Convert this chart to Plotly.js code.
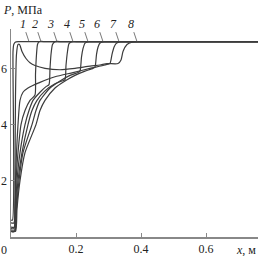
<!DOCTYPE html>
<html>
<head>
<meta charset="utf-8">
<script src="https://cdn.plot.ly/plotly-3.0.1.min.js"></script>
<style>html,body{margin:0;padding:0;background:#fff;}#chart{width:258px;height:256px;}</style>
</head>
<body>
<div id="chart"></div>
<script>
// Pressure profiles P (MPa) along x (m), curves 1..8
const x1 = [0, 0.0046, 0.0062, 0.0085, 0.013, 0.022, 0.06, 0.76];
const p1 = [0.6, 0.6, 6.6, 6.85, 6.93, 6.95, 6.95, 6.95];

const x2 = [0, 0.0092, 0.0123, 0.0154, 0.0215, 0.0308, 0.0431, 0.0585, 0.0738, 0.0754, 0.0785, 0.0815, 0.0862, 0.11, 0.76];
const p2 = [0.5, 0.5, 1.2, 2.0, 3.0, 4.0, 4.5, 4.86, 5.05, 5.8, 6.5, 6.85, 6.95, 6.95, 6.95];

const x3 = [0, 0.0108, 0.0138, 0.0185, 0.0277, 0.0431, 0.0554, 0.0677, 0.0892, 0.1077, 0.1169, 0.12, 0.1231, 0.1277, 0.1354, 0.16, 0.76];
const p3 = [0.35, 0.35, 1.0, 2.0, 3.0, 4.0, 4.5, 4.86, 5.15, 5.35, 5.42, 6.0, 6.5, 6.85, 6.95, 6.95, 6.95];

const x4 = [0, 0.0123, 0.0154, 0.0215, 0.0338, 0.0523, 0.0646, 0.08, 0.1046, 0.1354, 0.1569, 0.1662, 0.1692, 0.1738, 0.1785, 0.1877, 0.21, 0.76];
const p4 = [0.25, 0.25, 1.0, 2.0, 3.0, 4.0, 4.5, 4.86, 5.2, 5.45, 5.55, 5.6, 6.1, 6.6, 6.88, 6.95, 6.95, 6.95];

const x5 = [0, 0.0123, 0.0169, 0.0246, 0.0369, 0.0646, 0.0769, 0.0892, 0.12, 0.1508, 0.1815, 0.2062, 0.2123, 0.2169, 0.2215, 0.2277, 0.24, 0.27, 0.76];
const p5 = [0.2, 0.2, 1.0, 2.0, 3.0, 4.0, 4.5, 4.86, 5.3, 5.55, 5.75, 5.85, 5.9, 6.4, 6.7, 6.9, 6.95, 6.95, 6.95];

const x6 = [0, 0.0138, 0.0185, 0.0277, 0.0431, 0.0769, 0.0892, 0.1046, 0.1354, 0.1662, 0.1969, 0.2277, 0.2523, 0.2585, 0.2631, 0.2677, 0.2738, 0.2862, 0.31, 0.76];
const p6 = [0.2, 0.2, 1.0, 2.0, 3.0, 4.0, 4.5, 4.86, 5.3, 5.55, 5.75, 5.9, 6.0, 6.05, 6.5, 6.75, 6.9, 6.95, 6.95, 6.95];

const x7 = [0, 0.0092, 0.0123, 0.0138, 0.0169, 0.0215, 0.0277, 0.0369, 0.0523, 0.0892, 0.1354, 0.1908, 0.2431, 0.2892, 0.3046, 0.3108, 0.3169, 0.3231, 0.3354, 0.36, 0.76];
const p7 = [0.3, 0.3, 1.0, 2.0, 3.0, 4.0, 4.86, 5.15, 5.3, 5.5, 5.7, 5.85, 6.0, 6.12, 6.18, 6.5, 6.75, 6.88, 6.95, 6.95, 6.95];

const x8 = [0, 0.0108, 0.0123, 0.0138, 0.0169, 0.0215, 0.0262, 0.0338, 0.0462, 0.0585, 0.0738, 0.1046, 0.1508, 0.1969, 0.2431, 0.2738, 0.2954, 0.3292, 0.3385, 0.3446, 0.3569, 0.3723, 0.3908, 0.42, 0.76];
const p8 = [0.2, 0.2, 2.0, 5.0, 6.5, 6.85, 6.85, 6.6, 6.35, 6.2, 6.1, 6.0, 5.95, 6.0, 6.08, 6.12, 6.17, 6.17, 6.3, 6.6, 6.85, 6.93, 6.95, 6.95, 6.95];

const curveLabels = ['1', '2', '3', '4', '5', '6', '7', '8'];
const xTickVals = [0.2, 0.4, 0.6];
const xTickText = ['0.2', '0.4', '0.6'];
const yTickVals = [2, 4, 6];
const yTickText = ['2', '4', '6'];

// leader-line tips on the plateau (label placement)
const labelTipX = [0.0554, 0.0923, 0.1415, 0.1908, 0.2369, 0.2831, 0.3323, 0.3877];
const plateau = 6.95;

const xs = [x1, x2, x3, x4, x5, x6, x7, x8];
const ps = [p1, p2, p3, p4, p5, p6, p7, p8];

const FONT = 'Liberation Serif, Times New Roman, serif';
const traces = xs.map((x, i) => ({
  x: x, y: ps[i], type: 'scatter', mode: 'lines',
  line: {color: '#3c3c3c', width: 1.2, shape: 'spline', smoothing: 0.6},
  hoverinfo: 'skip', showlegend: false
}));

const annotations = curveLabels.map((t, i) => ({
  x: labelTipX[i], y: plateau, xref: 'x', yref: 'y',
  text: '<i>' + t + '</i>', showarrow: true, arrowhead: 0, arrowwidth: 0.8,
  arrowcolor: '#555', ax: -6, ay: -18, standoff: 0,
  font: {family: FONT, size: 12, color: '#222'}
}));
annotations.push({
  xref: 'paper', yref: 'paper', x: 0, y: 1, xanchor: 'left', yanchor: 'middle',
  xshift: -10, yshift: 19, showarrow: false,
  text: '<i>P</i>, МПа', font: {family: FONT, size: 12, color: '#222'}
});
annotations.push({
  xref: 'paper', yref: 'paper', x: 1, y: 0, xanchor: 'right', yanchor: 'top',
  xshift: 0, yshift: -4, showarrow: false,
  text: '<i>x</i>, м', font: {family: FONT, size: 12, color: '#222'}
});
annotations.push({
  xref: 'x', yref: 'paper', x: 0, y: 0, xanchor: 'center', yanchor: 'top',
  xshift: -7, yshift: -4, showarrow: false,
  text: '0', font: {family: FONT, size: 12, color: '#222'}
});

const layout = {
  width: 258, height: 256,
  margin: {l: 11, r: 0, t: 29, b: 19, pad: 0},
  paper_bgcolor: '#fff', plot_bgcolor: '#fff',
  font: {family: FONT, size: 12, color: '#222'},
  xaxis: {
    range: [0, 0.76], showgrid: false, zeroline: false,
    showline: true, linecolor: '#888', linewidth: 1.5,
    ticks: 'inside', ticklen: 4, tickcolor: '#888', tickwidth: 1,
    tickvals: xTickVals, ticktext: xTickText, automargin: false
  },
  yaxis: {
    range: [0, 7.4], showgrid: false, zeroline: false,
    showline: true, linecolor: '#888', linewidth: 1.5,
    ticks: 'inside', ticklen: 4, tickcolor: '#888', tickwidth: 1,
    tickvals: yTickVals, ticktext: yTickText, automargin: false
  },
  annotations: annotations
};

Plotly.newPlot('chart', traces, layout, {staticPlot: true, displayModeBar: false});
</script>
</body>
</html>
